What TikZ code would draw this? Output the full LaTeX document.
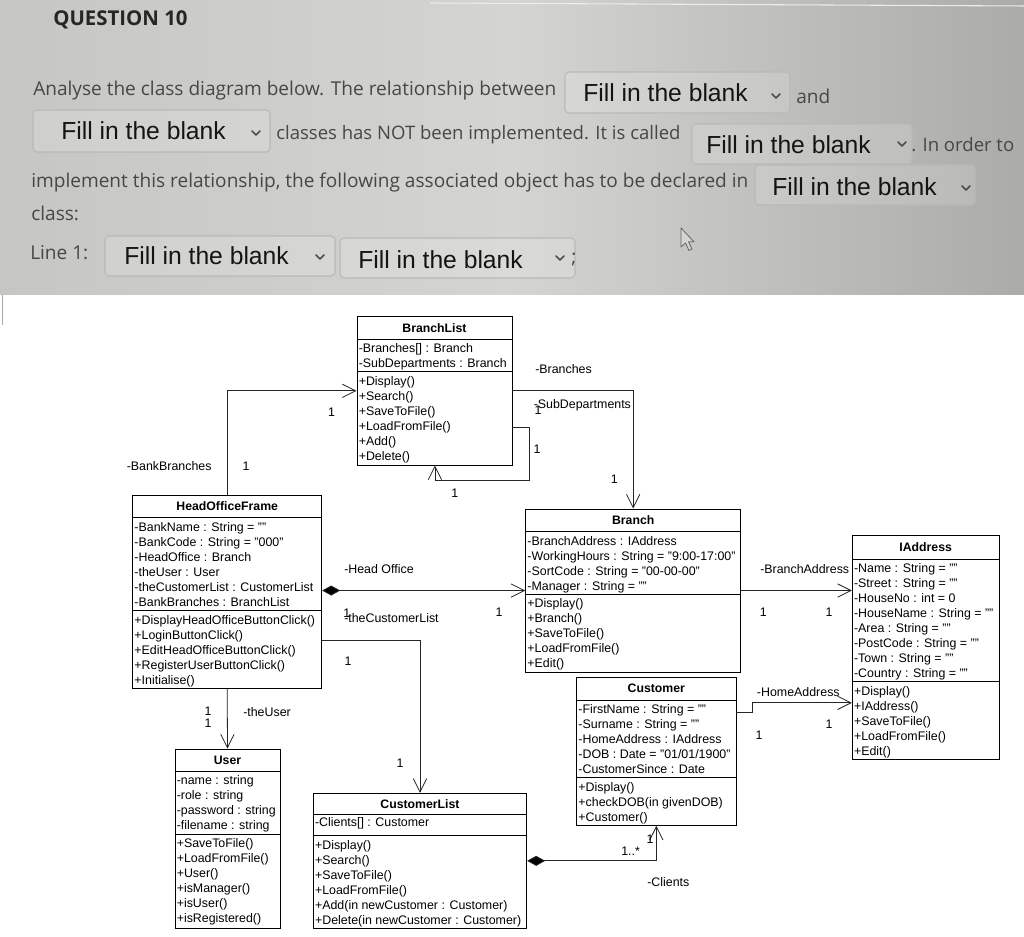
\documentclass[tikz,border=0pt]{standalone}
\usepackage{fontspec}
\setmainfont{Liberation Sans}
\newfontfamily\qfont{Open Sans}
\usetikzlibrary{arrows.meta,fit,calc}
\definecolor{bgA}{HTML}{C6C7C2}
\definecolor{bgB}{HTML}{D4D5D0}
\definecolor{bgC}{HTML}{ABACA8}
\definecolor{qgray}{HTML}{474747}
\definecolor{ddline}{HTML}{B9BAB5}
\begin{document}
\begin{tikzpicture}[x=0.75pt,y=-0.75pt,
  q/.style={font=\qfont\fontsize{14.3}{17}\selectfont, text=qgray, anchor=west, inner sep=0pt},
  qs/.style={font=\qfont\fontsize{13.9}{17}\selectfont, text=qgray, anchor=west, inner sep=0pt},
  qb/.style={font=\qfont\bfseries\fontsize{15.3}{18}\selectfont, text=black!85, anchor=west, inner sep=0pt},
  fb/.style={font=\fontsize{18.5}{22}\selectfont, text=black!92, anchor=west, inner sep=0pt},
  dd/.style={draw=ddline, fill=white, fill opacity=0.15, rounded corners=3pt, line width=0.8pt, inner sep=0pt},
  chev/.style={draw=black!70, line width=1.2pt, line cap=round, line join=round},
  cls/.style={draw=black, line width=0.7pt, inner sep=0pt},
  divl/.style={draw=black, line width=0.7pt},
  ttl/.style={font=\bfseries\fontsize{9.2}{11}\selectfont, inner sep=0pt},
  mem/.style={font=\fontsize{9.3}{11.25}\selectfont, anchor=north west, align=left, inner sep=0pt},
  lbl/.style={font=\fontsize{9.3}{11}\selectfont, anchor=west, inner sep=0pt},
  num/.style={font=\fontsize{9.3}{11}\selectfont, inner sep=0pt},
  assoc/.style={draw=black!85, line width=0.6pt, -{Straight Barb[length=10pt,width=10pt,line width=0.6pt]}},
  comp/.style={draw=black!85, line width=0.6pt, {Diamond[length=13.5pt,width=7.5pt,fill=black]}-{Straight Barb[length=10pt,width=10pt,line width=0.6pt]}},
]
\useasboundingbox (0,0) rectangle (1024,937);
\fill[white] (0,0) rectangle (1024,937);
% ---------- question area ----------
\shade[left color=bgA, right color=bgC, middle color=bgB] (0,0) rectangle (1024,295);
\draw[white!85!gray, line width=0.8pt] (430,3) -- (1024,6);
\draw[gray!70, line width=0.6pt] (2,295) -- (2,325);

\node[qb] (qt) at (53,20) {QUESTION 10};
\node[q] (l1) at (33,91) {Analyse the class diagram below. The relationship between};
\node[dd, fit={(565,72)(790,113)}] (d1) {};
\node[fb] (f1) at (583,93) {Fill in the blank};
\draw[chev] (772,94) -- (776,98) -- (780,94);
\node[q] (and) at (796,96) {and};

\node[dd, fit={(33,110)(270,152)}] (d2) {};
\node[fb] (f2) at (61,131) {Fill in the blank};
\draw[chev] (252,131) -- (256,135) -- (260,131);
\node[qs] (l2) at (276,135) {classes has NOT been implemented. It is called};

\node[dd, fit={(692,124)(912,164)}] (d3) {};
\node[fb] (f3) at (706,145) {Fill in the blank};
\draw[chev] (898,142) -- (902,146) -- (906,142);
\node[qs] (l3) at (911,145) {. In order to};

\node[q] (l4) at (31,183) {implement this relationship, the following associated object has to be declared in};
\node[dd, fit={(755,165)(975,205)}] (d4) {};
\node[fb] (f4) at (772,187) {Fill in the blank};
\draw[chev] (962,186) -- (966,190) -- (970,186);
\node[q] (l5) at (31,213) {class:};

\node[q] (l6) at (30,253) {Line 1:};
\node[dd, fit={(105,236)(335,276)}] (d5) {};
\node[fb] (f5) at (124,256) {Fill in the blank};
\draw[chev] (316,255) -- (320,259) -- (324,255);
\node[dd, fit={(340,238)(575,278)}] (d6) {};
\node[fb] (f6) at (358,260) {Fill in the blank};
\draw[chev] (556,256) -- (560,260) -- (564,256);
\node[q] (semi) at (571,259) {;};
\draw[gray!80!black, fill=bgB, line width=0.6pt, line join=round]
  (681,228) -- (681,247) -- (685.5,243) -- (689,250.5) -- (692,249) -- (688.5,241.8) -- (694,241.8) -- cycle;

% ---------- classes ----------
% BranchList
\node[cls, fit={(357,316.7)(512,465)}] (BL) {};
\draw[divl] (357,339) -- (512,339) (357,371.7) -- (512,371.7);
\node[ttl] at (434.5,328) {BranchList};
\node[mem] at (358.5,341.8) {\strut-Branches[] : Branch\\-SubDepartments : Branch};
\node[mem] at (358.5,374.5) {\strut+Display()\\+Search()\\+SaveToFile()\\+LoadFromFile()\\+Add()\\+Delete()};

% HeadOfficeFrame
\node[cls, fit={(132.7,495)(321.7,688)}] (HOF) {};
\draw[divl] (132.7,517.7) -- (321.7,517.7) (132.7,610.7) -- (321.7,610.7);
\node[ttl] at (227.2,506.3) {HeadOfficeFrame};
\node[mem] at (134.2,520.5) {\strut-BankName : String = ""\\-BankCode : String = "000"\\-HeadOffice : Branch\\-theUser : User\\-theCustomerList : CustomerList\\-BankBranches : BranchList};
\node[mem] at (134.2,613.5) {\strut+DisplayHeadOfficeButtonClick()\\+LoginButtonClick()\\+EditHeadOfficeButtonClick()\\+RegisterUserButtonClick()\\+Initialise()};

% Branch
\node[cls, fit={(525.7,509)(740.7,672)}] (BR) {};
\draw[divl] (525.7,531.7) -- (740.7,531.7) (525.7,594.3) -- (740.7,594.3);
\node[ttl] at (633.2,520.3) {Branch};
\node[mem] at (527.2,534.5) {\strut-BranchAddress : IAddress\\-WorkingHours : String = "9:00-17:00"\\-SortCode : String = "00-00-00"\\-Manager : String = ""};
\node[mem] at (527.2,597.1) {\strut+Display()\\+Branch()\\+SaveToFile()\\+LoadFromFile()\\+Edit()};

% IAddress
\node[cls, fit={(852.3,535.7)(999,759)}] (IA) {};
\draw[divl] (852.3,559) -- (999,559) (852.3,681.7) -- (999,681.7);
\node[ttl] at (925.7,547.3) {IAddress};
\node[mem] at (853.8,561.8) {\strut-Name : String = ""\\-Street : String = ""\\-HouseNo : int = 0\\-HouseName : String = ""\\-Area : String = ""\\-PostCode : String = ""\\-Town : String = ""\\-Country : String = ""};
\node[mem] at (853.8,684.5) {\strut+Display()\\+IAddress()\\+SaveToFile()\\+LoadFromFile()\\+Edit()};

% Customer
\node[cls, fit={(576.7,677.3)(736,825.3)}] (CU) {};
\draw[divl] (576.7,700) -- (736,700) (576.7,777.7) -- (736,777.7);
\node[ttl] at (656.3,688.6) {Customer};
\node[mem] at (578.2,702.8) {\strut-FirstName : String = ""\\-Surname : String = ""\\-HomeAddress : IAddress\\-DOB : Date = "01/01/1900"\\-CustomerSince : Date};
\node[mem] at (578.2,780.5) {\strut+Display()\\+checkDOB(in givenDOB)\\+Customer()};

% User
\node[cls, fit={(175,749)(280,928)}] (US) {};
\draw[divl] (175,771) -- (280,771) (175,834.3) -- (280,834.3);
\node[ttl] at (227.5,760) {User};
\node[mem] at (176.5,773.8) {\strut-name : string\\-role : string\\-password : string\\-filename : string};
\node[mem] at (176.5,837.1) {\strut+SaveToFile()\\+LoadFromFile()\\+User()\\+isManager()\\+isUser()\\+isRegistered()};

% CustomerList
\node[cls, fit={(313.3,793.3)(526.7,928)}] (CL) {};
\draw[divl] (313.3,814.5) -- (526.7,814.5) (313.3,835.7) -- (526.7,835.7);
\node[ttl] at (420,804) {CustomerList};
\node[mem] at (314.8,816) {\strut-Clients[] : Customer};
\node[mem] at (314.8,838.3) {\strut+Display()\\+Search()\\+SaveToFile()\\+LoadFromFile()\\+Add(in newCustomer : Customer)\\+Delete(in newCustomer : Customer)};

% ---------- connectors ----------
\draw[assoc] (HOF.north) |- (BL.west);
\draw[assoc] (BL.east) -| (BR.north);
\draw[assoc] ($(BL.north east)+(0,111)$) -- ++(16.7,0) -- ++(0,53.3) -| ($(BL.south west)+(78.4,0)$);
\draw[comp] ($(HOF.north east)+(0,96)$) -- ($(BR.north west)+(0,82)$);
\draw[assoc] ($(HOF.north east)+(0,145.7)$) -| (CL.north);
\draw[assoc] (HOF.south) -- (US.north);
\draw[assoc] ($(BR.north east)+(0,82)$) -- ($(IA.north west)+(0,55.3)$);
\draw[assoc] ($(CU.north east)+(0,36)$) -- ++(16.3,0) |- ($(IA.north west)+(0,167.6)$);
\draw[comp] ($(CL.north east)+(0,68)$) -| (CU.south);

% ---------- labels ----------
\node[num] at (331.6,412) {1};
\node[lbl] at (126.5,466) {-BankBranches};
\node[num] at (246,466) {1};
\node[lbl] at (535,369.5) {-Branches};
\node[lbl] at (533.5,405) {-SubDepartments};
\node[num] at (538,410) {1};
\node[num] at (537,449.3) {1};
\node[num] at (454.8,492.8) {1};
\node[num] at (614.4,479) {1};
\node[lbl] at (344,569) {-Head Office};
\node[lbl] at (344,617.7) {-theCustomerList};
\node[num] at (346.7,613) {1};
\node[num] at (499,612.7) {1};
\node[num] at (348,661.7) {1};
\node[num] at (400,763.3) {1};
\node[num] at (208,711.7) {1};
\node[num] at (208,723) {1};
\node[lbl] at (243,711.7) {-theUser};
\node[lbl] at (760,569) {-BranchAddress};
\node[num] at (763.3,612) {1};
\node[num] at (829,612) {1};
\node[lbl] at (756.7,692) {-HomeAddress};
\node[num] at (829,724.7) {1};
\node[num] at (759,735.7) {1};
\node[lbl] at (621,851.7) {1..*};
\node[num] at (650,839) {1};
\node[lbl] at (647,882) {-Clients};
\end{tikzpicture}
\end{document}
